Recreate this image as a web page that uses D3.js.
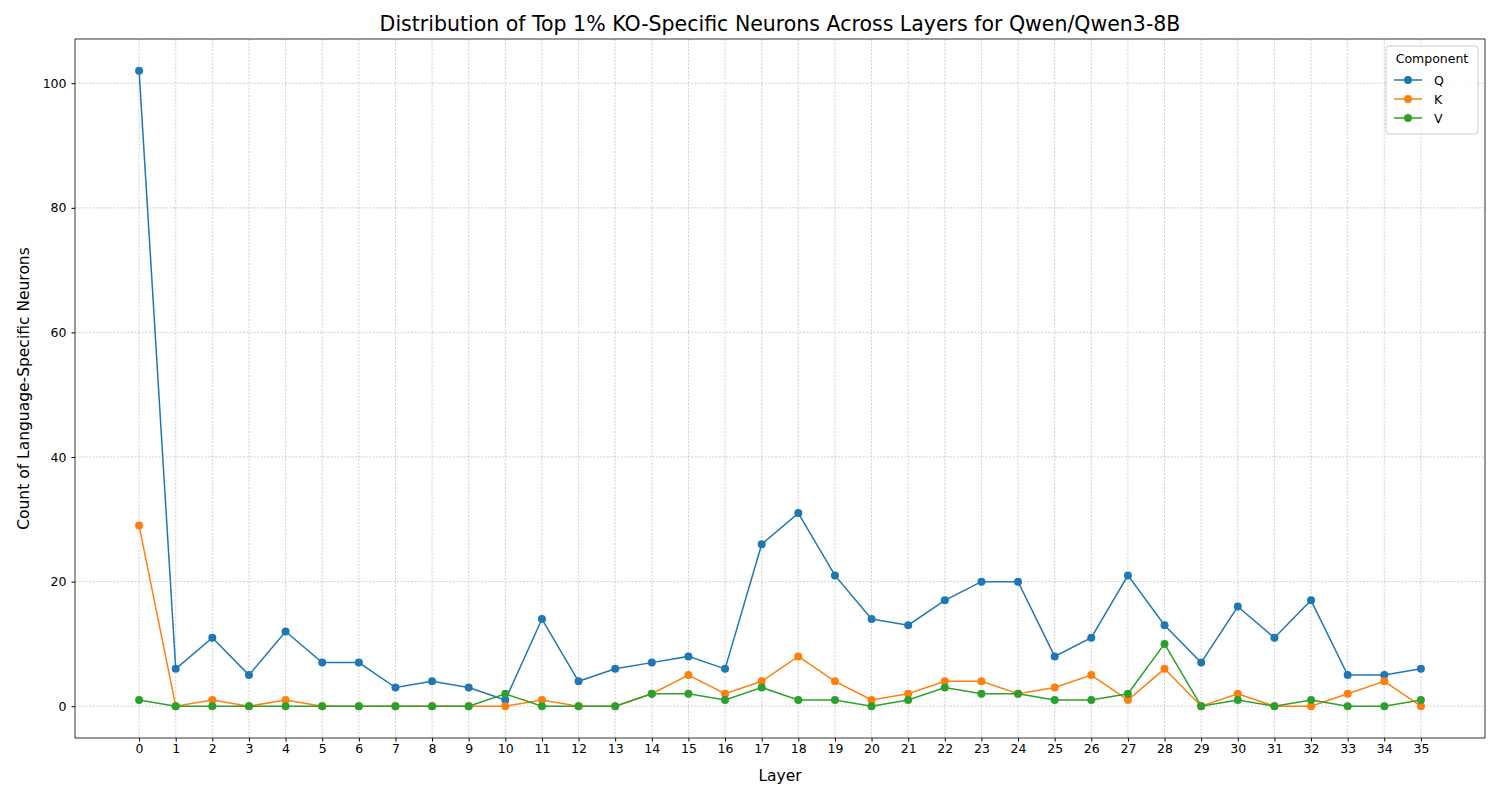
<!DOCTYPE html>
<html><head><meta charset="utf-8">
<script src="https://cdn.jsdelivr.net/npm/d3@7"></script>
<style>body{margin:0;background:#fff;font-family:"DejaVu Sans",sans-serif;}</style>
</head><body>
<svg id="c" width="1500" height="800"></svg>
<script>
const layers = d3.range(36);
const qVals = [102,6,11,5,12,7,7,3,4,3,1,14,4,6,7,8,6,26,31,21,14,13,17,20,20,8,11,21,13,7,16,11,17,5,5,6];
const kVals = [29,0,1,0,1,0,0,0,0,0,0,1,0,0,2,5,2,4,8,4,1,2,4,4,2,3,5,1,6,0,2,0,0,2,4,0];
const vVals = [1,0,0,0,0,0,0,0,0,0,2,0,0,0,2,2,1,3,1,1,0,1,3,2,2,1,1,2,10,0,1,0,1,0,0,1];
const seriesNames = ["Q","K","V"];
const colors = ["#1f77b4","#ff7f0e","#2ca02c"];
const yTicks = [0,20,40,60,80,100];

const svg = d3.select("#c");
const L=75,R=1485,T=39,B=738;
const x = d3.scaleLinear().domain([-1.75,36.75]).range([L,R]);
const y = d3.scaleLinear().domain([-5.1,107.1]).range([B,T]);

const grid = svg.append("g").attr("stroke","#b0b0b0").attr("stroke-width",0.6).attr("stroke-dasharray","2,1.5");
layers.forEach(l=>grid.append("line").attr("x1",x(l)).attr("x2",x(l)).attr("y1",T).attr("y2",B));
yTicks.forEach(t=>grid.append("line").attr("x1",L).attr("x2",R).attr("y1",y(t)).attr("y2",y(t)));

const xa = svg.append("g").attr("transform",`translate(0,${B})`).call(d3.axisBottom(x).tickValues(layers).tickFormat(d3.format("d")).tickSize(3.5));
const ya = svg.append("g").attr("transform",`translate(${L},0)`).call(d3.axisLeft(y).tickValues(yTicks).tickSize(3.5));
[xa,ya].forEach(a=>{a.select(".domain").remove();a.selectAll("text").attr("font-size",12.5).attr("fill","#000").attr("font-family","DejaVu Sans");a.selectAll("line").attr("stroke","#000");});
ya.selectAll("text").attr("dx",-2);
svg.append("rect").attr("x",L).attr("y",T).attr("width",R-L).attr("height",B-T).attr("fill","none").attr("stroke","#000").attr("stroke-width",0.8);

const line = d3.line().x((d,i)=>x(i)).y(d=>y(d));
[qVals,kVals,vVals].forEach((vals,si)=>{
  svg.append("path").attr("d",line(vals)).attr("fill","none").attr("stroke",colors[si]).attr("stroke-width",1.5);
  svg.append("g").selectAll("circle").data(vals).join("circle").attr("cx",(d,i)=>x(i)).attr("cy",d=>y(d)).attr("r",4).attr("fill",colors[si]);
});

svg.append("text").attr("x",(L+R)/2).attr("y",31).attr("text-anchor","middle").attr("font-size",20.5).text("Distribution of Top 1% KO-Specific Neurons Across Layers for Qwen/Qwen3-8B");
svg.append("text").attr("x",(L+R)/2).attr("y",781).attr("text-anchor","middle").attr("font-size",15.5).text("Layer");
svg.append("text").attr("transform",`translate(29,${(T+B)/2}) rotate(-90)`).attr("text-anchor","middle").attr("font-size",15.5).text("Count of Language-Specific Neurons");

const lg = svg.append("g");
lg.append("rect").attr("x",1386).attr("y",46).attr("width",92).attr("height",88).attr("rx",3).attr("fill","#fff").attr("fill-opacity",0.8).attr("stroke","#ccc");
lg.append("text").attr("x",1432).attr("y",63).attr("text-anchor","middle").attr("font-size",12.5).text("Component");
seriesNames.forEach((n,i)=>{
  const yy=80+i*19;
  lg.append("line").attr("x1",1394).attr("x2",1422).attr("y1",yy).attr("y2",yy).attr("stroke",colors[i]).attr("stroke-width",1.5);
  lg.append("circle").attr("cx",1408).attr("cy",yy).attr("r",4).attr("fill",colors[i]);
  lg.append("text").attr("x",1434).attr("y",yy+4.5).attr("font-size",12.5).text(n);
});
</script>
</body></html>
